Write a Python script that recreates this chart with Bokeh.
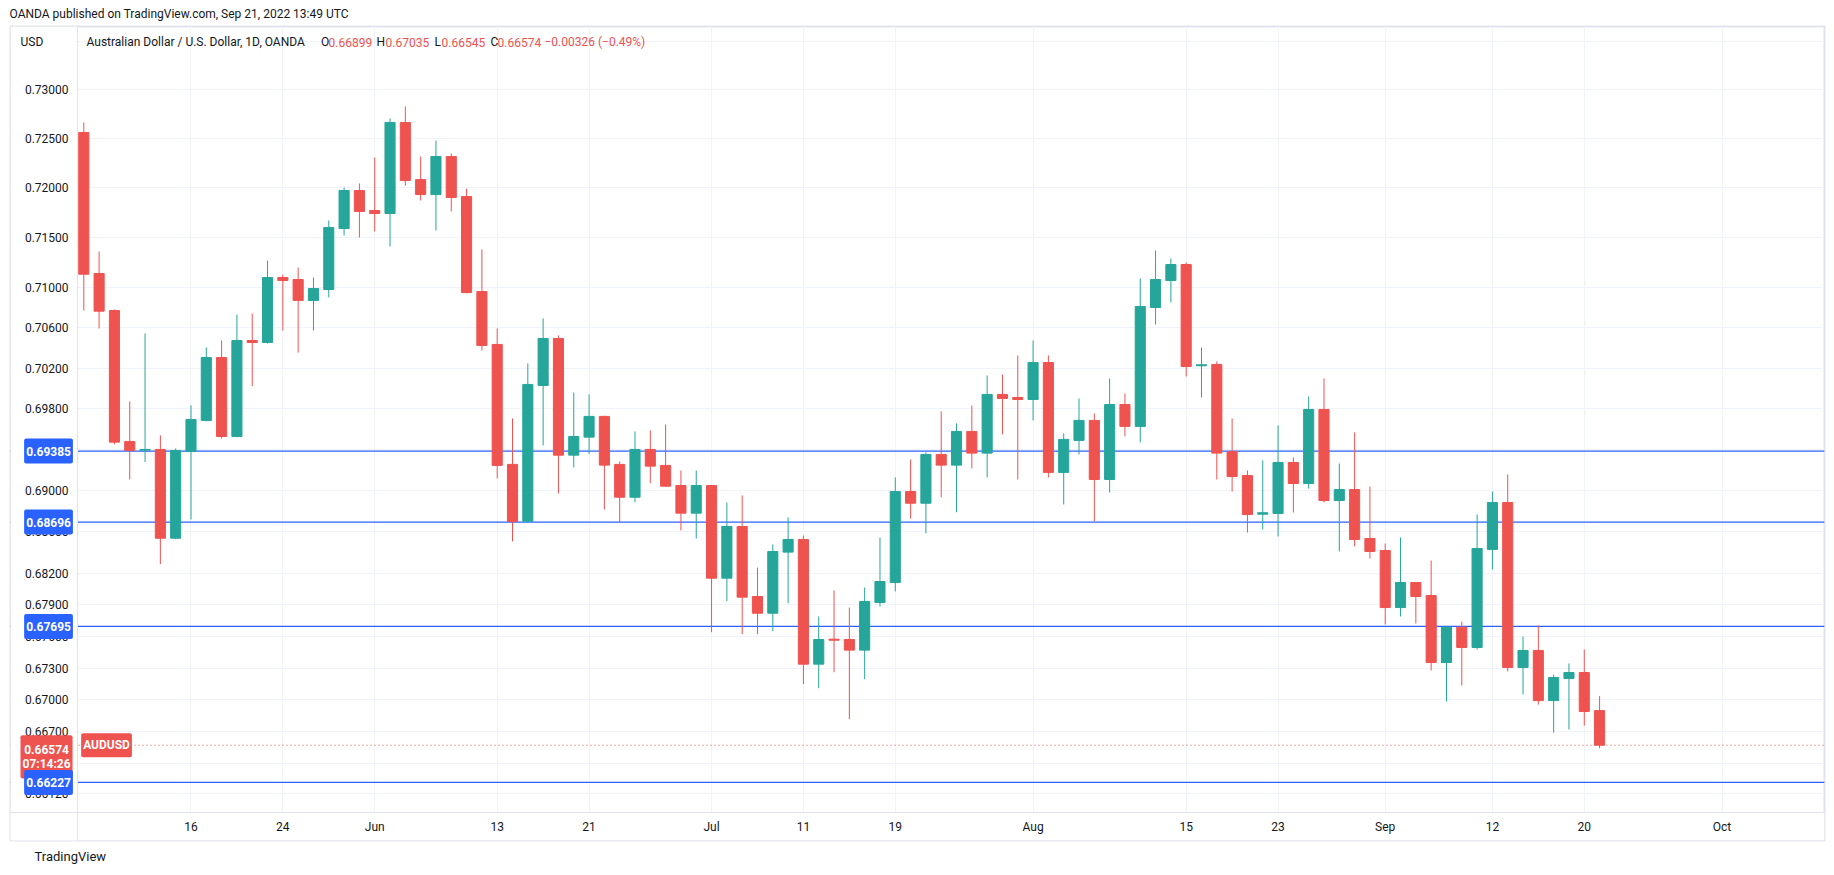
import pandas as pd
from bokeh.plotting import figure
from bokeh.models import (Range1d, FixedTicker, PrintfTickFormatter, Span, Label,
                          BoxAnnotation, ColumnDataSource, Title)
from bokeh.embed import file_html
from bokeh.resources import INLINE

# ---------------- data (AUD/USD, 1D, OANDA) ----------------
first_session = "2022-05-05"
last_session = "2022-09-21"
axis_last_session = "2022-10-03"

opens = [0.72563, 0.71139, 0.70770, 0.69479, 0.69394, 0.69401, 0.68540,
         0.69381, 0.69685, 0.70304, 0.69527, 0.70472, 0.70452, 0.71099, 0.71079, 0.70870, 0.70979,
         0.71590, 0.71974, 0.71772, 0.71742, 0.72666, 0.72085, 0.71933, 0.72319, 0.71913, 0.70959,
         0.70433, 0.69255, 0.68704, 0.70028, 0.70492, 0.69345, 0.69521, 0.69724, 0.69255, 0.68936,
         0.69401, 0.69245, 0.69050, 0.68782, 0.69050, 0.68156, 0.68653, 0.67981, 0.67821, 0.68406,
         0.68528, 0.67337, 0.67574, 0.67571, 0.67470, 0.67923, 0.68115, 0.68991, 0.68878, 0.69352,
         0.69248, 0.69577, 0.69365, 0.69940, 0.69910, 0.69890, 0.70254, 0.69177, 0.69489, 0.69685,
         0.69108, 0.69841, 0.69626, 0.70800, 0.71069, 0.71229, 0.70222, 0.70235, 0.69379, 0.69147,
         0.68772, 0.68779, 0.69274, 0.69069, 0.69792, 0.68904, 0.69011, 0.68537, 0.68422, 0.67875,
         0.68115, 0.67990, 0.67353, 0.67688, 0.67495, 0.68432, 0.68885, 0.67306, 0.67467, 0.66993,
         0.67202, 0.67258, 0.66899]
highs = [0.72666, 0.71360, 0.70780, 0.69871, 0.70542, 0.69538, 0.69411,
         0.69831, 0.70403, 0.70472, 0.70730, 0.70740, 0.71270, 0.71129, 0.71199, 0.71099, 0.71671,
         0.72004, 0.72045, 0.72309, 0.72707, 0.72830, 0.72319, 0.72482, 0.72350, 0.71994, 0.71380,
         0.70591, 0.69704, 0.70245, 0.70691, 0.70522, 0.69959, 0.69940, 0.69730, 0.69284, 0.69577,
         0.69587, 0.69645, 0.69196, 0.69196, 0.69055, 0.68885, 0.68953, 0.68258, 0.68480, 0.68740,
         0.68566, 0.67790, 0.68038, 0.67875, 0.68067, 0.68547, 0.69128, 0.69303, 0.69372, 0.69773,
         0.69655, 0.69831, 0.70126, 0.70136, 0.70324, 0.70472, 0.70324, 0.69557, 0.69900, 0.69753,
         0.70097, 0.69949, 0.71089, 0.71370, 0.71290, 0.71250, 0.70403, 0.70264, 0.69704, 0.69196,
         0.69294, 0.69636, 0.69323, 0.69920, 0.70097, 0.69264, 0.69567, 0.69040, 0.68489, 0.68547,
         0.68120, 0.68326, 0.67694, 0.67742, 0.68769, 0.68991, 0.69157, 0.67599, 0.67704, 0.67239,
         0.67344, 0.67476, 0.67035]
lows = [0.70770, 0.70591, 0.69450, 0.69108, 0.69277, 0.68290, 0.68530,
        0.68721, 0.69675, 0.69508, 0.69520, 0.70021, 0.70443, 0.70571, 0.70353, 0.70571, 0.70900,
        0.71520, 0.71500, 0.71561, 0.71410, 0.72024, 0.71873, 0.71571, 0.71762, 0.70939, 0.70373,
        0.69118, 0.68509, 0.68700, 0.69440, 0.68972, 0.69225, 0.69355, 0.68817, 0.68689, 0.68888,
        0.69072, 0.69040, 0.68615, 0.68537, 0.67640, 0.67936, 0.67621, 0.67621, 0.67650, 0.67916,
        0.67148, 0.67110, 0.67261, 0.66818, 0.67195, 0.67885, 0.68029, 0.68730, 0.68586, 0.68936,
        0.68791, 0.69216, 0.69128, 0.69548, 0.69108, 0.69685, 0.69128, 0.68866, 0.69352, 0.68702,
        0.68982, 0.69528, 0.69470, 0.70631, 0.70850, 0.70116, 0.69910, 0.69108, 0.68991, 0.68595,
        0.68624, 0.68557, 0.68788, 0.69020, 0.68885, 0.68412, 0.68461, 0.68345, 0.67713, 0.67790,
        0.67723, 0.67277, 0.66984, 0.67135, 0.67476, 0.68239, 0.67268, 0.67050, 0.66956, 0.66692,
        0.66721, 0.66758, 0.66545]
closes = [0.71132, 0.70763, 0.69472, 0.69391, 0.69401, 0.68540, 0.69391,
          0.69694, 0.70304, 0.69527, 0.70472, 0.70452, 0.71099, 0.71069, 0.70870, 0.70989, 0.71600,
          0.71974, 0.71762, 0.71742, 0.72666, 0.72075, 0.71933, 0.72319, 0.71903, 0.70949, 0.70423,
          0.69245, 0.68702, 0.70038, 0.70492, 0.69345, 0.69528, 0.69724, 0.69248, 0.68936, 0.69401,
          0.69238, 0.69043, 0.68782, 0.69050, 0.68156, 0.68653, 0.67974, 0.67821, 0.68412, 0.68528,
          0.67337, 0.67571, 0.67564, 0.67470, 0.67933, 0.68124, 0.68991, 0.68878, 0.69352, 0.69248,
          0.69577, 0.69365, 0.69940, 0.69900, 0.69890, 0.70254, 0.69177, 0.69499, 0.69685, 0.69108,
          0.69841, 0.69626, 0.70810, 0.71079, 0.71229, 0.70215, 0.70232, 0.69365, 0.69137, 0.68769,
          0.68786, 0.69274, 0.69069, 0.69792, 0.68904, 0.69011, 0.68528, 0.68412, 0.67875, 0.68115,
          0.67981, 0.67353, 0.67688, 0.67495, 0.68441, 0.68885, 0.67306, 0.67467, 0.66993, 0.67211,
          0.67258, 0.66890, 0.66574]

price_grid = [0.735, 0.730, 0.725, 0.720, 0.715, 0.710, 0.706, 0.702, 0.698, 0.694, 0.690,
              0.686, 0.682, 0.679, 0.676, 0.673, 0.670, 0.667, 0.664, 0.6612]
price_labeled = [0.730, 0.725, 0.720, 0.715, 0.710, 0.706, 0.702, 0.698, 0.690,
                 0.686, 0.682, 0.679, 0.676, 0.673, 0.670, 0.667, 0.6612]
date_tick_days = ["2022-05-16", "2022-05-24", "2022-06-01", "2022-06-13", "2022-06-21",
                  "2022-07-01", "2022-07-11", "2022-07-19", "2022-08-01", "2022-08-15",
                  "2022-08-23", "2022-09-01", "2022-09-12", "2022-09-20", "2022-10-03"]
date_tick_labels = ["16", "24", "Jun", "13", "21", "Jul", "11", "19", "Aug", "15",
                    "23", "Sep", "12", "20", "Oct"]
level_lines = [0.69385, 0.68696, 0.67695, 0.66227]
last_price = 0.66574
countdown = "07:14:26"
symbol = "AUDUSD"
legend_title = "Australian Dollar / U.S. Dollar, 1D, OANDA"
legend_change = "\u22120.00326 (\u22120.49%)"
currency = "USD"
published = "OANDA published on TradingView.com, Sep 21, 2022 13:49 UTC"
brand = "TradingView"

# ---------------- styling ----------------
UP, DOWN = "#26a69a", "#ef5350"
BLUE = "#2962ff"
TXT = "#131722"
GRID = "#f0f3fa"
FRAME = "#e0e3eb"
FONT = "Roboto"

sessions = pd.bdate_range(first_session, axis_last_session)
pos = {d: i for i, d in enumerate(sessions)}
candle_days = pd.bdate_range(first_session, last_session)
xs = [pos[d] for d in candle_days]

colors = [UP if c >= o else DOWN for o, c in zip(opens, closes)]
src = ColumnDataSource(dict(
    x=xs, open=opens, high=highs, low=lows, close=closes,
    top=[max(o, c) for o, c in zip(opens, closes)],
    bottom=[min(o, c) for o, c in zip(opens, closes)],
    color=colors,
))

# frame = whole TradingView pane (page px 10..1824 x 26..840)
XL, XR = -4.788, 113.69        # data x at frame left / right edge
X_SCALE = -0.41                # data x where the price scale column ends
YB, YT = 0.65688, 0.73653      # price at frame bottom / top
Y_TIME = 0.65947               # price where the time-scale row begins
FRAME_LEFT, FRAME_TOP = 10, 26

p = figure(width=1826, height=871,
           x_range=Range1d(XL, XR), y_range=Range1d(YB, YT),
           y_axis_type="log", output_backend="svg", toolbar_location=None,
           min_border_left=10, min_border_right=2, min_border_top=0, min_border_bottom=0,
           title=published)
p.outline_line_color = FRAME
p.outline_line_width = 2
p.background_fill_color = "white"
p.border_fill_color = "white"
p.title.text_font = FONT
p.title.text_font_size = "12px"
p.title.text_font_style = "normal"
p.title.text_color = TXT
p.title.align = "left"
p.title.offset = -1
p.title.standoff = 10
p.title.vertical_align = "middle"
p.add_layout(Title(text=brand, text_font=FONT, text_font_size="13px", text_font_style="normal",
                   text_color=TXT, align="left", offset=24, standoff=14,
                   vertical_align="middle"), "below")

# axes (pinned inside the pane)
xt = [pos[pd.Timestamp(d)] for d in date_tick_days]
p.xaxis.ticker = FixedTicker(ticks=xt)
p.xaxis.major_label_overrides = {t: l for t, l in zip(xt, date_tick_labels)}
p.xaxis.fixed_location = Y_TIME
p.yaxis.ticker = FixedTicker(ticks=price_labeled)
p.yaxis.formatter = PrintfTickFormatter(format="%.5f")
p.yaxis.fixed_location = X_SCALE
p.ygrid.ticker = FixedTicker(ticks=price_grid)
p.xgrid.ticker = FixedTicker(ticks=xt)
for ax in (p.xaxis[0], p.yaxis[0]):
    ax.axis_line_color = FRAME
    ax.axis_line_width = 1
    ax.major_tick_line_color = None
    ax.minor_tick_line_color = None
    ax.major_tick_out = 0
    ax.major_tick_in = 0
    ax.major_label_text_font = FONT
    ax.major_label_text_font_size = "12px"
    ax.major_label_text_color = TXT
p.yaxis.major_label_standoff = 9
p.xaxis.major_label_standoff = 7
for g in (p.xgrid[0], p.ygrid[0]):
    g.grid_line_color = GRID
    g.grid_line_width = 1

# horizontal levels (under the masks so they stop at the price scale)
for lvl in level_lines:
    p.add_layout(Span(location=lvl, dimension="width", line_color=BLUE, line_width=1.2,
                      level="underlay"))
p.add_layout(Span(location=last_price, dimension="width", line_color=DOWN,
                  line_width=1, line_dash="1 3", level="underlay"))

# white price-scale column and time-scale row
p.add_layout(BoxAnnotation(left=XL, right=X_SCALE, bottom=YB, top=YT, fill_color="white",
                           fill_alpha=1, line_color=None, level="underlay"))
p.add_layout(BoxAnnotation(left=XL, right=XR, bottom=YB, top=Y_TIME, fill_color="white",
                           fill_alpha=1, line_color=None, level="underlay"))

# candles
p.segment(x0="x", y0="low", x1="x", y1="high", line_color="color", line_width=1, source=src)
p.vbar(x="x", width=0.66, top="top", bottom="bottom", fill_color="color",
       line_color="color", line_width=1, source=src)


def pane_label(text, px, py, color=TXT, size="12px", bold=False, align="left"):
    p.add_layout(Label(x=XL, y=YT, x_units="data", y_units="data",
                       x_offset=px - FRAME_LEFT, y_offset=FRAME_TOP - py,
                       text=text, text_color=color, text_font=FONT, text_font_size=size,
                       text_font_style="bold" if bold else "normal",
                       text_align=align, text_baseline="middle"))


pane_label(currency, 20, 41.5)
pane_label(legend_title, 86, 41.5)
ohlc = [("O", opens[-1], 320.5, 328), ("H", highs[-1], 376, 385),
        ("L", lows[-1], 434, 441), ("C", closes[-1], 490, 497)]
for letter, val, lx, vx in ohlc:
    pane_label(letter, lx, 41.5)
    pane_label(f"{val:.5f}", vx, 41.5, color=DOWN)
pane_label(legend_change, 544, 41.5, color=DOWN)

# price-scale labels: last price (with countdown) first, level boxes on top
p.add_layout(Label(x=X_SCALE, y=last_price, x_units="data", y_units="data",
                   x_offset=-31, y_offset=10,
                   text=f"{last_price:.5f}\n{countdown}", text_color="white", text_font=FONT,
                   text_font_size="12px", text_font_style="bold", text_line_height=0.95,
                   text_align="center", text_baseline="top",
                   background_fill_color=DOWN, padding=(2, 8), border_radius=2))
for lvl in level_lines:
    p.add_layout(Label(x=X_SCALE, y=lvl, x_units="data", y_units="data", x_offset=-29,
                       text=f"{lvl:.5f}", text_color="white", text_font=FONT,
                       text_font_size="12px", text_font_style="bold",
                       text_align="center", text_baseline="middle",
                       background_fill_color=BLUE, padding=(2, 8), border_radius=2))
p.add_layout(Label(x=X_SCALE, y=last_price, x_units="data", y_units="data", x_offset=29,
                   text=symbol, text_color="white", text_font=FONT,
                   text_font_size="12px", text_font_style="bold",
                   text_align="center", text_baseline="middle",
                   background_fill_color=DOWN, padding=(2, 5), border_radius=2))

open("out.html", "w").write(file_html(p, INLINE))
